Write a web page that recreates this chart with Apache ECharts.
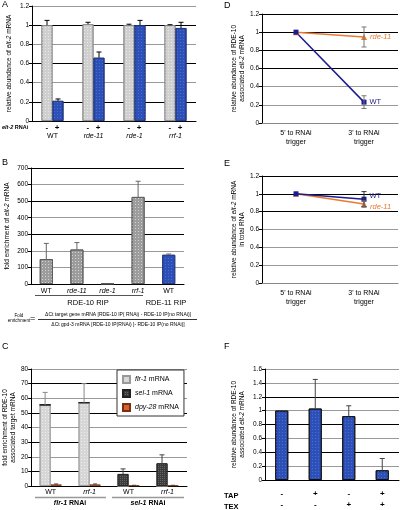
<!DOCTYPE html>
<html><head><meta charset="utf-8">
<script src="https://cdn.jsdelivr.net/npm/echarts@6/dist/echarts.min.js"></script>
<style>html,body{margin:0;padding:0;background:#fff}#c{width:400px;height:510px}</style>
</head><body><div id="c"></div>
<script>
// ---------- data ----------
// Panel A
const groupsA = ['WT','rde-11','rde-1','rrf-1'];
const rnaiSigns = ['-','+'];
const aNoRNAi = [1.0, 1.01, 1.0, 1.0];
const aNoRNAiErr = [0.05, 0.02, 0.01, 0.005];
const aRNAi = [0.21, 0.66, 1.0, 0.97];
const aRNAiErr = [0.02, 0.06, 0.05, 0.06];
// Panel B
const catsB = ['WT','rde-11','rde-1','rrf-1','WT'];
const ripB = ['RDE-10','RDE-10','RDE-10','RDE-10','RDE-11'];
const bVals = [150, 208, 2, 525, 176];
const bErr = [95, 42, 0, 95, 5];
// Panel C
const catsC = ['WT','rrf-1','WT','rrf-1'];
const rnaiC = ['flr-1','flr-1','sel-1','sel-1'];
const cFlr1 = [55.5, 57, 0, 0];
const cFlr1Err = [8.5, 13, 0, 0];
const cSel1 = [0, 0, 8.2, 15.5];
const cSel1Err = [0, 0, 3.5, 5.8];
const cDpy28 = [1.1, 1.1, 0.4, 0.4];
const cDpy28Err = [0.3, 0.3, 0.1, 0.1];
// Panel D
const posCats = ["5' to RNAi\ntrigger", "3' to RNAi\ntrigger"];
const dWT = [1.0, 0.23];
const dWTErr = [0, 0.07];
const dRde11 = [1.0, 0.947];
const dRde11Err = [0, 0.11];
// Panel E
const eWT = [1.0, 0.94];
const eWTErr = [0, 0.085];
const eRde11 = [1.0, 0.885];
const eRde11Err = [0, 0.035];
// Panel F
const tapSigns = ['-','+','-','+'];
const texSigns = ['-','-','+','+'];
const fVals = [1.0, 1.03, 0.92, 0.14];
const fErr = [0, 0.42, 0.15, 0.17];

// ---------- helpers ----------
const FONT = 'Liberation Sans, Arial, sans-serif';
const isGene = s => s !== 'WT';
const nameRich = s => isGene(s) ? '{i|' + s + '}' : '{n|' + s + '}';
const richBase = {
  n: {fontSize: 7, fontFamily: FONT, color: '#000'},
  i: {fontSize: 7, fontFamily: FONT, fontStyle: 'italic', color: '#000'},
  s: {fontSize: 8, fontFamily: FONT, color: '#000', fontWeight: 'bold'}
};

function errSeries(xi, yi, vals, errs, offset, both, color, cap) {
  return {
    type: 'custom', xAxisIndex: xi, yAxisIndex: yi, z: 10, silent: true,
    encode: {x: 0, y: 1},
    data: vals.map((v, i) => [i, v, errs[i]]),
    renderItem: function (params, api) {
      const idx = api.value(0), v = api.value(1), e = api.value(2);
      if (!e) return null;
      const p = api.coord([idx, v]);
      const t = api.coord([idx, v + e]);
      const b = both ? api.coord([idx, v - e]) : p;
      const x = p[0] + offset;
      const st = {stroke: color, lineWidth: 1};
      const ch = [{type: 'line', shape: {x1: x, y1: t[1], x2: x, y2: b[1]}, style: st},
                  {type: 'line', shape: {x1: x - cap, y1: t[1], x2: x + cap, y2: t[1]}, style: st}];
      if (both) ch.push({type: 'line', shape: {x1: x - cap, y1: b[1], x2: x + cap, y2: b[1]}, style: st});
      return {type: 'group', children: ch};
    }
  };
}

function yAx(gi, max, interval, name, gap, colors) {
  return {
    type: 'value', gridIndex: gi, min: 0, max: max, interval: interval,
    axisLine: {show: true, lineStyle: {color: '#000', width: 1}},
    axisTick: {show: true, length: 3, lineStyle: {color: '#000'}},
    axisLabel: {fontSize: 6.5, fontFamily: FONT, color: '#000', margin: 3},
    splitLine: {show: true, lineStyle: {color: colors, width: 1}},
    name: name, nameLocation: 'middle', nameGap: gap,
    nameTextStyle: {fontSize: 6.5, fontFamily: FONT, color: '#000', lineHeight: 8,
      rich: {i: {fontSize: 6.5, fontFamily: FONT, fontStyle: 'italic', color: '#000'}}}
  };
}

const greyDots = {symbol: 'rect', symbolSize: 1, color: 'rgba(255,255,255,0.55)', dashArrayX: [1, 2], dashArrayY: [1, 2]};
const darkDots = {symbol: 'rect', symbolSize: 1, color: 'rgba(255,255,255,0.2)', dashArrayX: [1, 1], dashArrayY: [1, 1]};
const blueDots = {symbol: 'rect', symbolSize: 1, color: 'rgba(140,170,240,0.35)', dashArrayX: [1, 2], dashArrayY: [1, 2]};

const chart = echarts.init(document.getElementById('c'), null, {renderer: 'canvas'});

const option = {
  animation: false,
  backgroundColor: '#fff',
  textStyle: {fontFamily: FONT},
  grid: [
    {left: 32, top: 6, width: 164, height: 115},
    {left: 31, top: 168, width: 153, height: 116},
    {left: 31, top: 369, width: 156, height: 117},
    {left: 262, top: 14, width: 136, height: 109},
    {left: 262, top: 176, width: 136, height: 107},
    {left: 265, top: 369, width: 134, height: 117}
  ],
  xAxis: [
    {type: 'category', gridIndex: 0, data: groupsA,
      axisLine: {lineStyle: {color: '#000'}}, axisTick: {show: false},
      axisLabel: {interval: 0, margin: 3, lineHeight: 8, rich: richBase,
        formatter: v => '{s|' + rnaiSigns.join('   ') + '}\n' + nameRich(v)}},
    {type: 'category', gridIndex: 1, data: catsB,
      axisLine: {lineStyle: {color: '#000'}}, axisTick: {show: false},
      axisLabel: {interval: 0, margin: 4, rich: richBase, formatter: v => nameRich(v)}},
    {type: 'category', gridIndex: 2, data: catsC,
      axisLine: {lineStyle: {color: '#000'}}, axisTick: {show: false},
      axisLabel: {interval: 0, margin: 3, rich: richBase, formatter: v => nameRich(v)}},
    {type: 'category', gridIndex: 3, data: posCats,
      axisLine: {lineStyle: {color: '#888'}}, axisTick: {show: false},
      axisLabel: {interval: 0, margin: 6, fontSize: 7, lineHeight: 9, fontFamily: FONT, color: '#000'}},
    {type: 'category', gridIndex: 4, data: posCats,
      axisLine: {lineStyle: {color: '#888'}}, axisTick: {show: false},
      axisLabel: {interval: 0, margin: 6, fontSize: 7, lineHeight: 9, fontFamily: FONT, color: '#000'}},
    {type: 'category', gridIndex: 5, data: tapSigns.map((t, i) => t + '\n' + texSigns[i]),
      axisLine: {lineStyle: {color: '#000'}}, axisTick: {show: false},
      axisLabel: {interval: 0, margin: 8, fontSize: 8, lineHeight: 11, fontWeight: 'bold', fontFamily: FONT, color: '#000'}}
  ],
  yAxis: [
    yAx(0, 1.2, 0.2, 'relative abundance of {i|elt-2} mRNA', 19, ['#999', '#000']),
    yAx(1, 700, 100, 'fold enrichment of {i|elt-2} mRNA', 20, ['#999', '#999', '#999', '#000', '#999', '#000', '#999', '#000']),
    yAx(2, 80, 10, 'fold enrichment of RDE-10\nassociated target mRNA', 11, ['#999', '#000']),
    yAx(3, 1.2, 0.2, 'relative abundance of RDE-10\nassociated {i|elt-2} mRNA', 15, ['#999', '#999', '#999', '#000', '#000', '#000', '#000']),
    yAx(4, 1.2, 0.2, 'relative abundance of {i|elt-2} mRNA\nin total RNA', 16, ['#999', '#999', '#999', '#999', '#000', '#000', '#000']),
    yAx(5, 1.6, 0.2, 'relative abundance of RDE-10\nassociated {i|elt-2} mRNA', 19, ['#999', '#999', '#000', '#999', '#000', '#999', '#000', '#999', '#999'])
  ],
  legend: {
    show: true, orient: 'vertical', left: 117, top: 370,
    data: ['flr-1 mRNA', 'sel-1 mRNA', 'dpy-28 mRNA'],
    backgroundColor: '#fff', borderColor: '#333', borderWidth: 1, padding: [5, 5, 4, 5],
    itemWidth: 7, itemHeight: 7, itemGap: 5, icon: 'rect',
    textStyle: {fontSize: 7, fontFamily: FONT, color: '#000', rich: richBase},
    formatter: n => { const p = n.split(' '); return '{i|' + p[0] + '} {n|' + p.slice(1).join(' ') + '}'; }
  },
  series: [
    // A
    {type: 'bar', name: 'no RNAi', xAxisIndex: 0, yAxisIndex: 0, data: aNoRNAi, barWidth: 11, barGap: '0%',
      itemStyle: {color: '#cfcfcf', borderColor: '#888', borderWidth: 0.8, decal: greyDots}},
    {type: 'bar', name: 'elt-2 RNAi', xAxisIndex: 0, yAxisIndex: 0, data: aRNAi, barWidth: 11, barGap: '0%',
      itemStyle: {color: '#2d4fb8', borderColor: '#223377', borderWidth: 0.8, decal: blueDots}},
    errSeries(0, 0, aNoRNAi, aNoRNAiErr, -5.5, false, '#000', 2.5),
    errSeries(0, 0, aRNAi, aRNAiErr, 5.5, false, '#000', 2.5),
    // B
    {type: 'bar', name: 'B', xAxisIndex: 1, yAxisIndex: 1, barWidth: 13,
      data: bVals.map((v, i) => ({value: v, itemStyle: ripB[i] === 'RDE-10'
        ? {color: '#9c9c9c', borderColor: '#555', borderWidth: 0.8, decal: greyDots}
        : {color: '#2d4fb8', borderColor: '#223377', borderWidth: 0.8, decal: blueDots}}))},
    errSeries(1, 1, bVals, bErr, 0, false, '#666', 2.5),
    // C
    {type: 'bar', name: 'flr-1 mRNA', xAxisIndex: 2, yAxisIndex: 2, stack: 'target', data: cFlr1, barWidth: 11, barGap: '0%',
      itemStyle: {color: '#d6d6d6', borderColor: '#999', borderWidth: 0.8, decal: greyDots}},
    {type: 'bar', name: 'sel-1 mRNA', xAxisIndex: 2, yAxisIndex: 2, stack: 'target', data: cSel1, barWidth: 11, barGap: '0%',
      itemStyle: {color: '#3c3c3c', borderColor: '#222', borderWidth: 0.8, decal: darkDots}},
    {type: 'bar', name: 'dpy-28 mRNA', xAxisIndex: 2, yAxisIndex: 2, data: cDpy28, barWidth: 11, barGap: '0%',
      itemStyle: {color: '#d8602c', borderColor: '#7a3010', borderWidth: 0.8}},
    errSeries(2, 2, cFlr1, cFlr1Err, -5.5, false, '#888', 2.5),
    errSeries(2, 2, cSel1, cSel1Err, -5.5, false, '#444', 2.5),
    errSeries(2, 2, cDpy28, cDpy28Err, 5.5, false, '#444', 2),
    // D
    {type: 'line', name: 'rde-11', xAxisIndex: 3, yAxisIndex: 3, z: 5, symbol: 'triangle', symbolSize: 6,
      lineStyle: {color: '#ea7a30', width: 1.5}, itemStyle: {color: '#ea7a30'},
      data: dRde11.map((v, i) => i === dRde11.length - 1
        ? {value: v, label: {show: true, position: 'right', distance: 3, formatter: '{i|rde-11}', rich: {i: {fontStyle: 'italic', fontSize: 7.5, color: '#ea7a30', fontFamily: FONT}}}}
        : v)},
    {type: 'line', name: 'WT', xAxisIndex: 3, yAxisIndex: 3, z: 5, symbol: 'rect', symbolSize: 5,
      lineStyle: {color: '#1c1c90', width: 1.5}, itemStyle: {color: '#1c1c90'},
      data: dWT.map((v, i) => i === dWT.length - 1
        ? {value: v, label: {show: true, position: 'right', distance: 3, formatter: 'WT', fontSize: 7.5, color: '#1c1c90', fontFamily: FONT}}
        : v)},
    errSeries(3, 3, dRde11, dRde11Err, 0, true, '#777', 2.5),
    errSeries(3, 3, dWT, dWTErr, 0, true, '#777', 2.5),
    // E
    {type: 'line', name: 'rde-11 E', xAxisIndex: 4, yAxisIndex: 4, z: 5, symbol: 'triangle', symbolSize: 6,
      lineStyle: {color: '#ea7a30', width: 1.5}, itemStyle: {color: '#ea7a30'},
      data: eRde11.map((v, i) => i === eRde11.length - 1
        ? {value: v, label: {show: true, position: 'right', distance: 3, offset: [0, 3], formatter: '{i|rde-11}', rich: {i: {fontStyle: 'italic', fontSize: 7.5, color: '#ea7a30', fontFamily: FONT}}}}
        : v)},
    {type: 'line', name: 'WT E', xAxisIndex: 4, yAxisIndex: 4, z: 6, symbol: 'rect', symbolSize: 5,
      lineStyle: {color: '#1c1c90', width: 1.5}, itemStyle: {color: '#1c1c90'},
      data: eWT.map((v, i) => i === eWT.length - 1
        ? {value: v, label: {show: true, position: 'right', distance: 3, offset: [0, -3], formatter: 'WT', fontSize: 7.5, color: '#1c1c90', fontFamily: FONT}}
        : v)},
    errSeries(4, 4, eWT, eWTErr, 0, true, '#333', 2.5),
    errSeries(4, 4, eRde11, eRde11Err, 0, true, '#777', 2.5),
    // F
    {type: 'bar', name: 'F', xAxisIndex: 5, yAxisIndex: 5, data: fVals, barWidth: 13,
      itemStyle: {color: '#2d4fb8', borderColor: '#111', borderWidth: 0.9, decal: blueDots}},
    errSeries(5, 5, fVals, fErr, 0, false, '#444', 2.5)
  ],
  graphic: [
    {type: 'text', left: 2, top: 0, style: {text: 'A', fontSize: 9, fontFamily: FONT, fill: '#000'}},
    {type: 'text', left: 2, top: 158, style: {text: 'B', fontSize: 9, fontFamily: FONT, fill: '#000'}},
    {type: 'text', left: 2, top: 342, style: {text: 'C', fontSize: 9, fontFamily: FONT, fill: '#000'}},
    {type: 'text', left: 224, top: 1, style: {text: 'D', fontSize: 9, fontFamily: FONT, fill: '#000'}},
    {type: 'text', left: 224, top: 159, style: {text: 'E', fontSize: 9, fontFamily: FONT, fill: '#000'}},
    {type: 'text', left: 224, top: 342, style: {text: 'F', fontSize: 9, fontFamily: FONT, fill: '#000'}},
    {type: 'text', left: 2, top: 124, style: {text: '{i|elt-2} RNAi', fontSize: 5.5, fontWeight: 'bold', fontFamily: FONT, fill: '#000',
      rich: {i: {fontStyle: 'italic', fontWeight: 'bold', fontSize: 5.5, fontFamily: FONT}}}},
    {type: 'line', shape: {x1: 35, y1: 295.5, x2: 143, y2: 295.5}, style: {stroke: '#555', lineWidth: 1}},
    {type: 'text', x: 88, y: 299, style: {text: 'RDE-10 RIP', fontSize: 7.5, fontFamily: FONT, fill: '#000', align: 'center'}},
    {type: 'text', x: 166, y: 299, style: {text: 'RDE-11 RIP', fontSize: 7.5, fontFamily: FONT, fill: '#000', align: 'center'}},
    {type: 'text', x: 19, y: 313, style: {text: 'Fold\nenrichment', fontSize: 4.5, lineHeight: 5.5, fontFamily: FONT, fill: '#000', align: 'center'}},
    {type: 'text', x: 30, y: 314, style: {text: '=', fontSize: 9, fontFamily: FONT, fill: '#000'}},
    {type: 'line', shape: {x1: 38, y1: 319.5, x2: 197, y2: 319.5}, style: {stroke: '#000', lineWidth: 0.8}},
    {type: 'text', x: 118, y: 312, style: {text: '\u0394Ct target gene mRNA [RDE-10 IP( RNAi) - RDE-10 IP(no RNAi)]', fontSize: 5, fontFamily: FONT, fill: '#000', align: 'center'}},
    {type: 'text', x: 118, y: 322, style: {text: '\u0394Ct gpd-3 mRNA [RDE-10 IP(RNAi) ]- RDE-10 IP(no RNAi)]', fontSize: 5, fontFamily: FONT, fill: '#000', align: 'center'}},
    {type: 'line', shape: {x1: 35, y1: 497.5, x2: 106, y2: 497.5}, style: {stroke: '#999', lineWidth: 1.5}},
    {type: 'line', shape: {x1: 112, y1: 497.5, x2: 184, y2: 497.5}, style: {stroke: '#999', lineWidth: 1.5}},
    {type: 'text', x: 70, y: 500, style: {text: '{i|' + rnaiC[0] + '} RNAi', fontSize: 7, fontWeight: 'bold', fontFamily: FONT, fill: '#000', align: 'center',
      rich: {i: {fontStyle: 'italic', fontWeight: 'bold', fontSize: 7, fontFamily: FONT}}}},
    {type: 'text', x: 148, y: 500, style: {text: '{i|' + rnaiC[2] + '} RNAi', fontSize: 7, fontWeight: 'bold', fontFamily: FONT, fill: '#000', align: 'center',
      rich: {i: {fontStyle: 'italic', fontWeight: 'bold', fontSize: 7, fontFamily: FONT}}}},
    {type: 'text', left: 224, top: 492, style: {text: 'TAP', fontSize: 7.5, fontWeight: 'bold', fontFamily: FONT, fill: '#000'}},
    {type: 'text', left: 224, top: 503, style: {text: 'TEX', fontSize: 7.5, fontWeight: 'bold', fontFamily: FONT, fill: '#000'}}
  ]
};
chart.setOption(option);
</script></body></html>
